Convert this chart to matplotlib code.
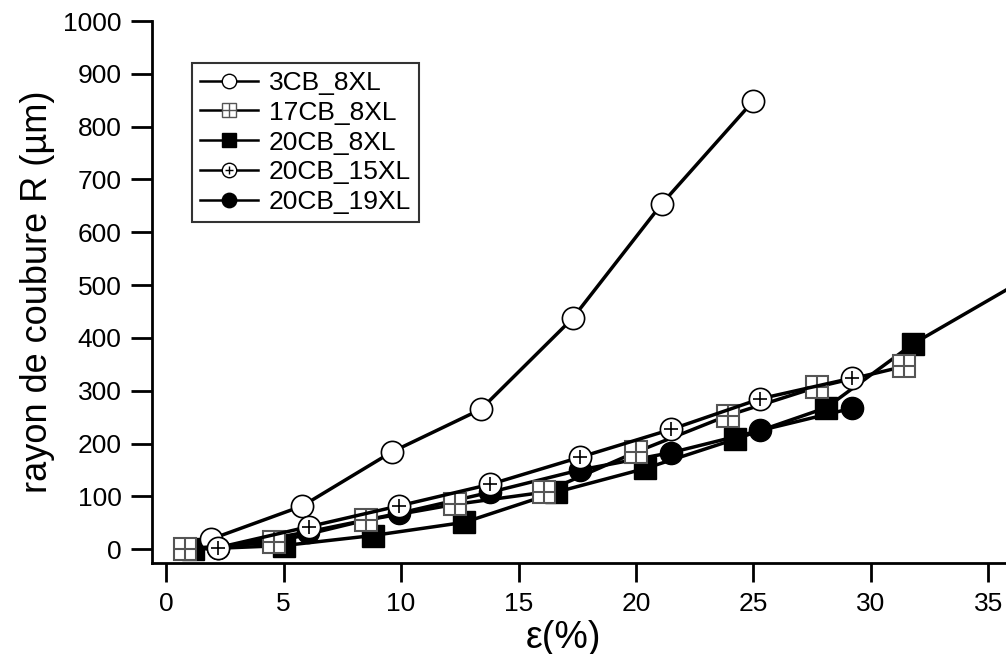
import matplotlib
matplotlib.use("Agg")
import matplotlib.pyplot as plt
from matplotlib.lines import Line2D

plt.rcParams['font.family'] = ['Liberation Sans', 'DejaVu Sans']

# strain (%) and curvature radius (um)
x_3cb_8xl = [1.9, 5.8, 9.6, 13.4, 17.3, 21.1, 25.0]
r_3cb_8xl = [19, 82, 184, 265, 437, 654, 849]

x_17cb_8xl = [0.8, 4.6, 8.5, 12.3, 16.1, 20.0, 23.9, 27.7, 31.4]
r_17cb_8xl = [1, 13, 55, 85, 108, 184, 253, 307, 346]

x_20cb_8xl = [1.15, 5.0, 8.8, 12.7, 16.6, 20.4, 24.2, 28.1, 31.8, 40.0]
r_20cb_8xl = [0, 7, 26, 51, 108, 153, 208, 268, 389, 600]

x_20cb_15xl = [2.2, 6.1, 9.9, 13.8, 17.6, 21.5, 25.3, 29.2]
r_20cb_15xl = [3, 43, 82, 123, 174, 227, 285, 324]

x_20cb_19xl = [2.2, 6.05, 9.9, 13.8, 17.6, 21.5, 25.3, 29.2]
r_20cb_19xl = [2, 33, 68, 108, 150, 183, 225, 267]

fig = plt.figure(figsize=(10.06, 6.54), dpi=100)
ax = fig.add_axes([152/1006, 91/654, 854/1006, 542/654])

lw = 2.5
ms = 16
grid_col = '#555555'

# draw order so the hollow markers sit on top like in the original
ax.plot(x_20cb_19xl, r_20cb_19xl, '-o', color='k', lw=lw, ms=ms, mfc='k', mec='k', zorder=2)
ax.plot(x_20cb_8xl, r_20cb_8xl, '-s', color='k', lw=lw, ms=ms, mfc='k', mec='k', zorder=3)
ax.plot(x_3cb_8xl, r_3cb_8xl, '-o', color='k', lw=lw, ms=ms, mfc='white', mec='k', mew=1.2, zorder=4)
ax.plot(x_17cb_8xl, r_17cb_8xl, '-s', color='k', lw=lw, ms=ms, mfc='white', mec=grid_col, mew=1.5, zorder=5)
ax.plot(x_17cb_8xl, r_17cb_8xl, '+', color=grid_col, ms=ms, mew=1.5, zorder=5)
ax.plot(x_20cb_15xl, r_20cb_15xl, '-o', color='k', lw=lw, ms=ms, mfc='white', mec='k', mew=1.2, zorder=6)
ax.plot(x_20cb_15xl, r_20cb_15xl, '+', color='k', ms=ms * 0.6, mew=1.2, zorder=6)

ax.set_xlim(-0.6, 35.75)
ax.set_ylim(-26, 1000)
ax.set_xticks([0, 5, 10, 15, 20, 25, 30, 35])
ax.set_yticks(range(0, 1001, 100))

for s in ['top', 'right']:
    ax.spines[s].set_visible(False)
for s in ['left', 'bottom']:
    ax.spines[s].set_linewidth(2.0)

ax.tick_params(axis='both', direction='out', width=2.0, labelsize=19, pad=7)
ax.tick_params(axis='y', length=15)
ax.tick_params(axis='x', length=14)

ax.set_xlabel('ε(%)', fontsize=27)
ax.xaxis.set_label_coords(0.482, -0.105)
ax.set_ylabel('rayon de coubure R (µm)', fontsize=26, labelpad=6)

# legend handles built from the same marker styles
lms = ms * 0.65
h1 = Line2D([], [], color='k', lw=1.8, marker='o', ms=lms, mfc='white', mec='k', mew=1.0)
h2 = (Line2D([], [], color='k', lw=1.8, marker='s', ms=lms, mfc='white', mec=grid_col, mew=1.0),
      Line2D([], [], ls='none', marker='+', color=grid_col, ms=lms, mew=1.0))
h3 = Line2D([], [], color='k', lw=1.8, marker='s', ms=lms, mfc='k', mec='k')
h4 = (Line2D([], [], color='k', lw=1.8, marker='o', ms=lms, mfc='white', mec='k', mew=1.0),
      Line2D([], [], ls='none', marker='+', color='k', ms=lms * 0.6, mew=1.0))
h5 = Line2D([], [], color='k', lw=1.8, marker='o', ms=lms, mfc='k', mec='k')

leg = ax.legend([h1, h2, h3, h4, h5],
                ['3CB_8XL', '17CB_8XL', '20CB_8XL', '20CB_15XL', '20CB_19XL'],
                loc='upper left', bbox_to_anchor=(40/854, (563 - 63)/542),
                frameon=True, fancybox=False, edgecolor='k', fontsize=19,
                handlelength=2.2, handletextpad=0.4, labelspacing=0.22,
                borderpad=0.3, borderaxespad=0)
leg.get_frame().set_linewidth(1.5)

fig.savefig('out.png', dpi=100)
